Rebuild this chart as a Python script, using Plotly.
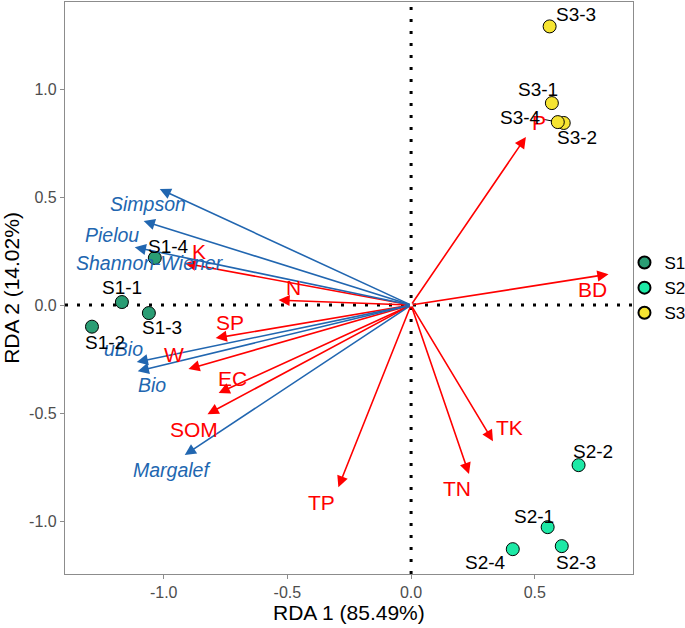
import plotly.graph_objects as go

# ---- sample scores ----
sample_names = ["S1-1", "S1-2", "S1-3", "S1-4",
                "S2-1", "S2-2", "S2-3", "S2-4",
                "S3-1", "S3-2", "S3-3", "S3-4"]
sample_group = ["S1"] * 4 + ["S2"] * 4 + ["S3"] * 4
sample_x = [-1.169, -1.29, -1.06, -1.036, 0.552, 0.677, 0.609, 0.411, 0.569, 0.617, 0.56, 0.593]
sample_y = [0.014, -0.10, -0.037, 0.218, -1.028, -0.741, -1.116, -1.13, 0.935, 0.843, 1.29, 0.847]
sample_label_x = [-1.17, -1.238, -1.008, -0.98, 0.496, 0.734, 0.665, 0.302, 0.512, 0.669, 0.665, 0.444]
sample_label_y = [0.083, -0.171, -0.102, 0.273, -0.977, -0.68, -1.19, -1.194, 1.0, 0.778, 1.343, 0.87]

group_names = ["S1", "S2", "S3"]
group_colors = ["#2A9D74", "#1DE9A6", "#F6E431"]

# ---- environmental vectors (red) ----
env_names = ["BD", "P", "TK", "TN", "TP", "SOM", "EC", "W", "SP", "N", "K"]
env_x = [0.798, 0.464, 0.331, 0.234, -0.294, -0.823, -0.778, -0.90, -0.79, -0.536, -0.915]
env_y = [0.143, 0.778, -0.630, -0.782, -0.843, -0.505, -0.407, -0.296, -0.153, 0.023, 0.194]
env_label_x = [0.734, 0.516, 0.399, 0.185, -0.363, -0.879, -0.722, -0.96, -0.734, -0.476, -0.859]
env_label_y = [0.074, 0.847, -0.565, -0.847, -0.912, -0.574, -0.338, -0.23, -0.083, 0.083, 0.25]

# ---- diversity vectors (blue) ----
div_names = ["Simpson", "Pielou", "Shannon-Wiener", "uBio", "Bio", "Margalef"]
div_x = [-1.016, -1.081, -1.117, -1.109, -1.105, -0.915]
div_y = [0.537, 0.389, 0.268, -0.264, -0.306, -0.694]
div_label_x = [-1.065, -1.21, -1.056, -1.161, -1.048, -0.968]
div_label_y = [0.468, 0.324, 0.194, -0.204, -0.37, -0.764]

x_ticks = [-1.0, -0.5, 0.0, 0.5]
y_ticks = [-1.0, -0.5, 0.0, 0.5, 1.0]
x_title = "RDA 1 (85.49%)"
y_title = "RDA 2 (14.02%)"

RED = "#FF0000"
BLUE = "#2166B0"
FONT = "Liberation Sans, Arial, sans-serif"

fig = go.Figure()

# zero lines
fig.add_shape(type="line", xref="x", yref="paper", x0=0, x1=0, y0=0, y1=1,
              line=dict(color="black", width=3, dash="3px,9px"), layer="below")
fig.add_shape(type="line", xref="paper", yref="y", x0=0, x1=1, y0=0, y1=0,
              line=dict(color="black", width=3, dash="3px,9px"), layer="below")

# connector for repelled label S3-4
i = sample_names.index("S3-4")
fig.add_trace(go.Scatter(
    x=[sample_label_x[i] + 0.09, sample_x[i]],
    y=[sample_label_y[i] - 0.01, sample_y[i]],
    mode="lines", line=dict(color="black", width=1), showlegend=False, hoverinfo="skip"))

# sample points
for g, col in zip(group_names, group_colors):
    idx = [k for k, s in enumerate(sample_group) if s == g]
    fig.add_trace(go.Scatter(
        x=[sample_x[k] for k in idx], y=[sample_y[k] for k in idx],
        mode="markers", name=g,
        marker=dict(size=13, color=col, line=dict(color="black", width=1))))

annotations = []
# arrows
for xs, ys, col in [(env_x, env_y, RED), (div_x, div_y, BLUE)]:
    for x, y in zip(xs, ys):
        annotations.append(dict(x=x, y=y, ax=0, ay=0, xref="x", yref="y",
                                axref="x", ayref="y", text="", showarrow=True,
                                arrowhead=2, arrowsize=1.4, arrowwidth=1.6,
                                arrowcolor=col))
# labels
for n, x, y in zip(env_names, env_label_x, env_label_y):
    annotations.append(dict(x=x, y=y, xref="x", yref="y", text=n, showarrow=False,
                            font=dict(family=FONT, size=21, color=RED)))
for n, x, y in zip(div_names, div_label_x, div_label_y):
    annotations.append(dict(x=x, y=y, xref="x", yref="y", text="<i>" + n + "</i>",
                            showarrow=False, font=dict(family=FONT, size=19.5, color=BLUE)))
for n, x, y in zip(sample_names, sample_label_x, sample_label_y):
    annotations.append(dict(x=x, y=y, xref="x", yref="y", text=n, showarrow=False,
                            font=dict(family=FONT, size=19, color="black")))

# x axis title
annotations.append(dict(x=0.5, y=0, xref="paper", yref="paper", text=x_title,
                        showarrow=False, yanchor="middle", yshift=-38,
                        font=dict(family=FONT, size=21, color="black")))

axis_common = dict(showgrid=False, zeroline=False, showline=True, mirror=True,
                   linecolor="#8C8C8C", linewidth=1.2, ticks="outside", ticklen=4,
                   tickcolor="#8C8C8C", tickfont=dict(family=FONT, size=16, color="#4D4D4D"))

fig.update_layout(
    width=685, height=628,
    margin=dict(l=65, r=52, t=2, b=54, autoexpand=False),
    plot_bgcolor="white", paper_bgcolor="white",
    font=dict(family=FONT),
    annotations=annotations,
    xaxis=dict(range=[-1.399, 0.897], tickvals=x_ticks,
               ticktext=[f"{v:.1f}" for v in x_ticks],
               automargin=False, **axis_common),
    yaxis=dict(range=[-1.245, 1.403], tickvals=y_ticks,
               ticktext=[f"{v:.1f}" for v in y_ticks],
               title=dict(text=y_title, font=dict(family=FONT, size=21, color="black"),
                          standoff=4),
               automargin=False, **axis_common),
    legend=dict(x=0.985, xanchor="left", y=0.5, yanchor="middle",
                font=dict(family=FONT, size=17, color="black"),
                itemwidth=30, itemsizing="constant", tracegroupgap=0,
                bgcolor="rgba(0,0,0,0)"),
    showlegend=True,
)

fig.write_html("out.html", config={"displayModeBar": False},
               post_script="document.body.style.margin='0';")
